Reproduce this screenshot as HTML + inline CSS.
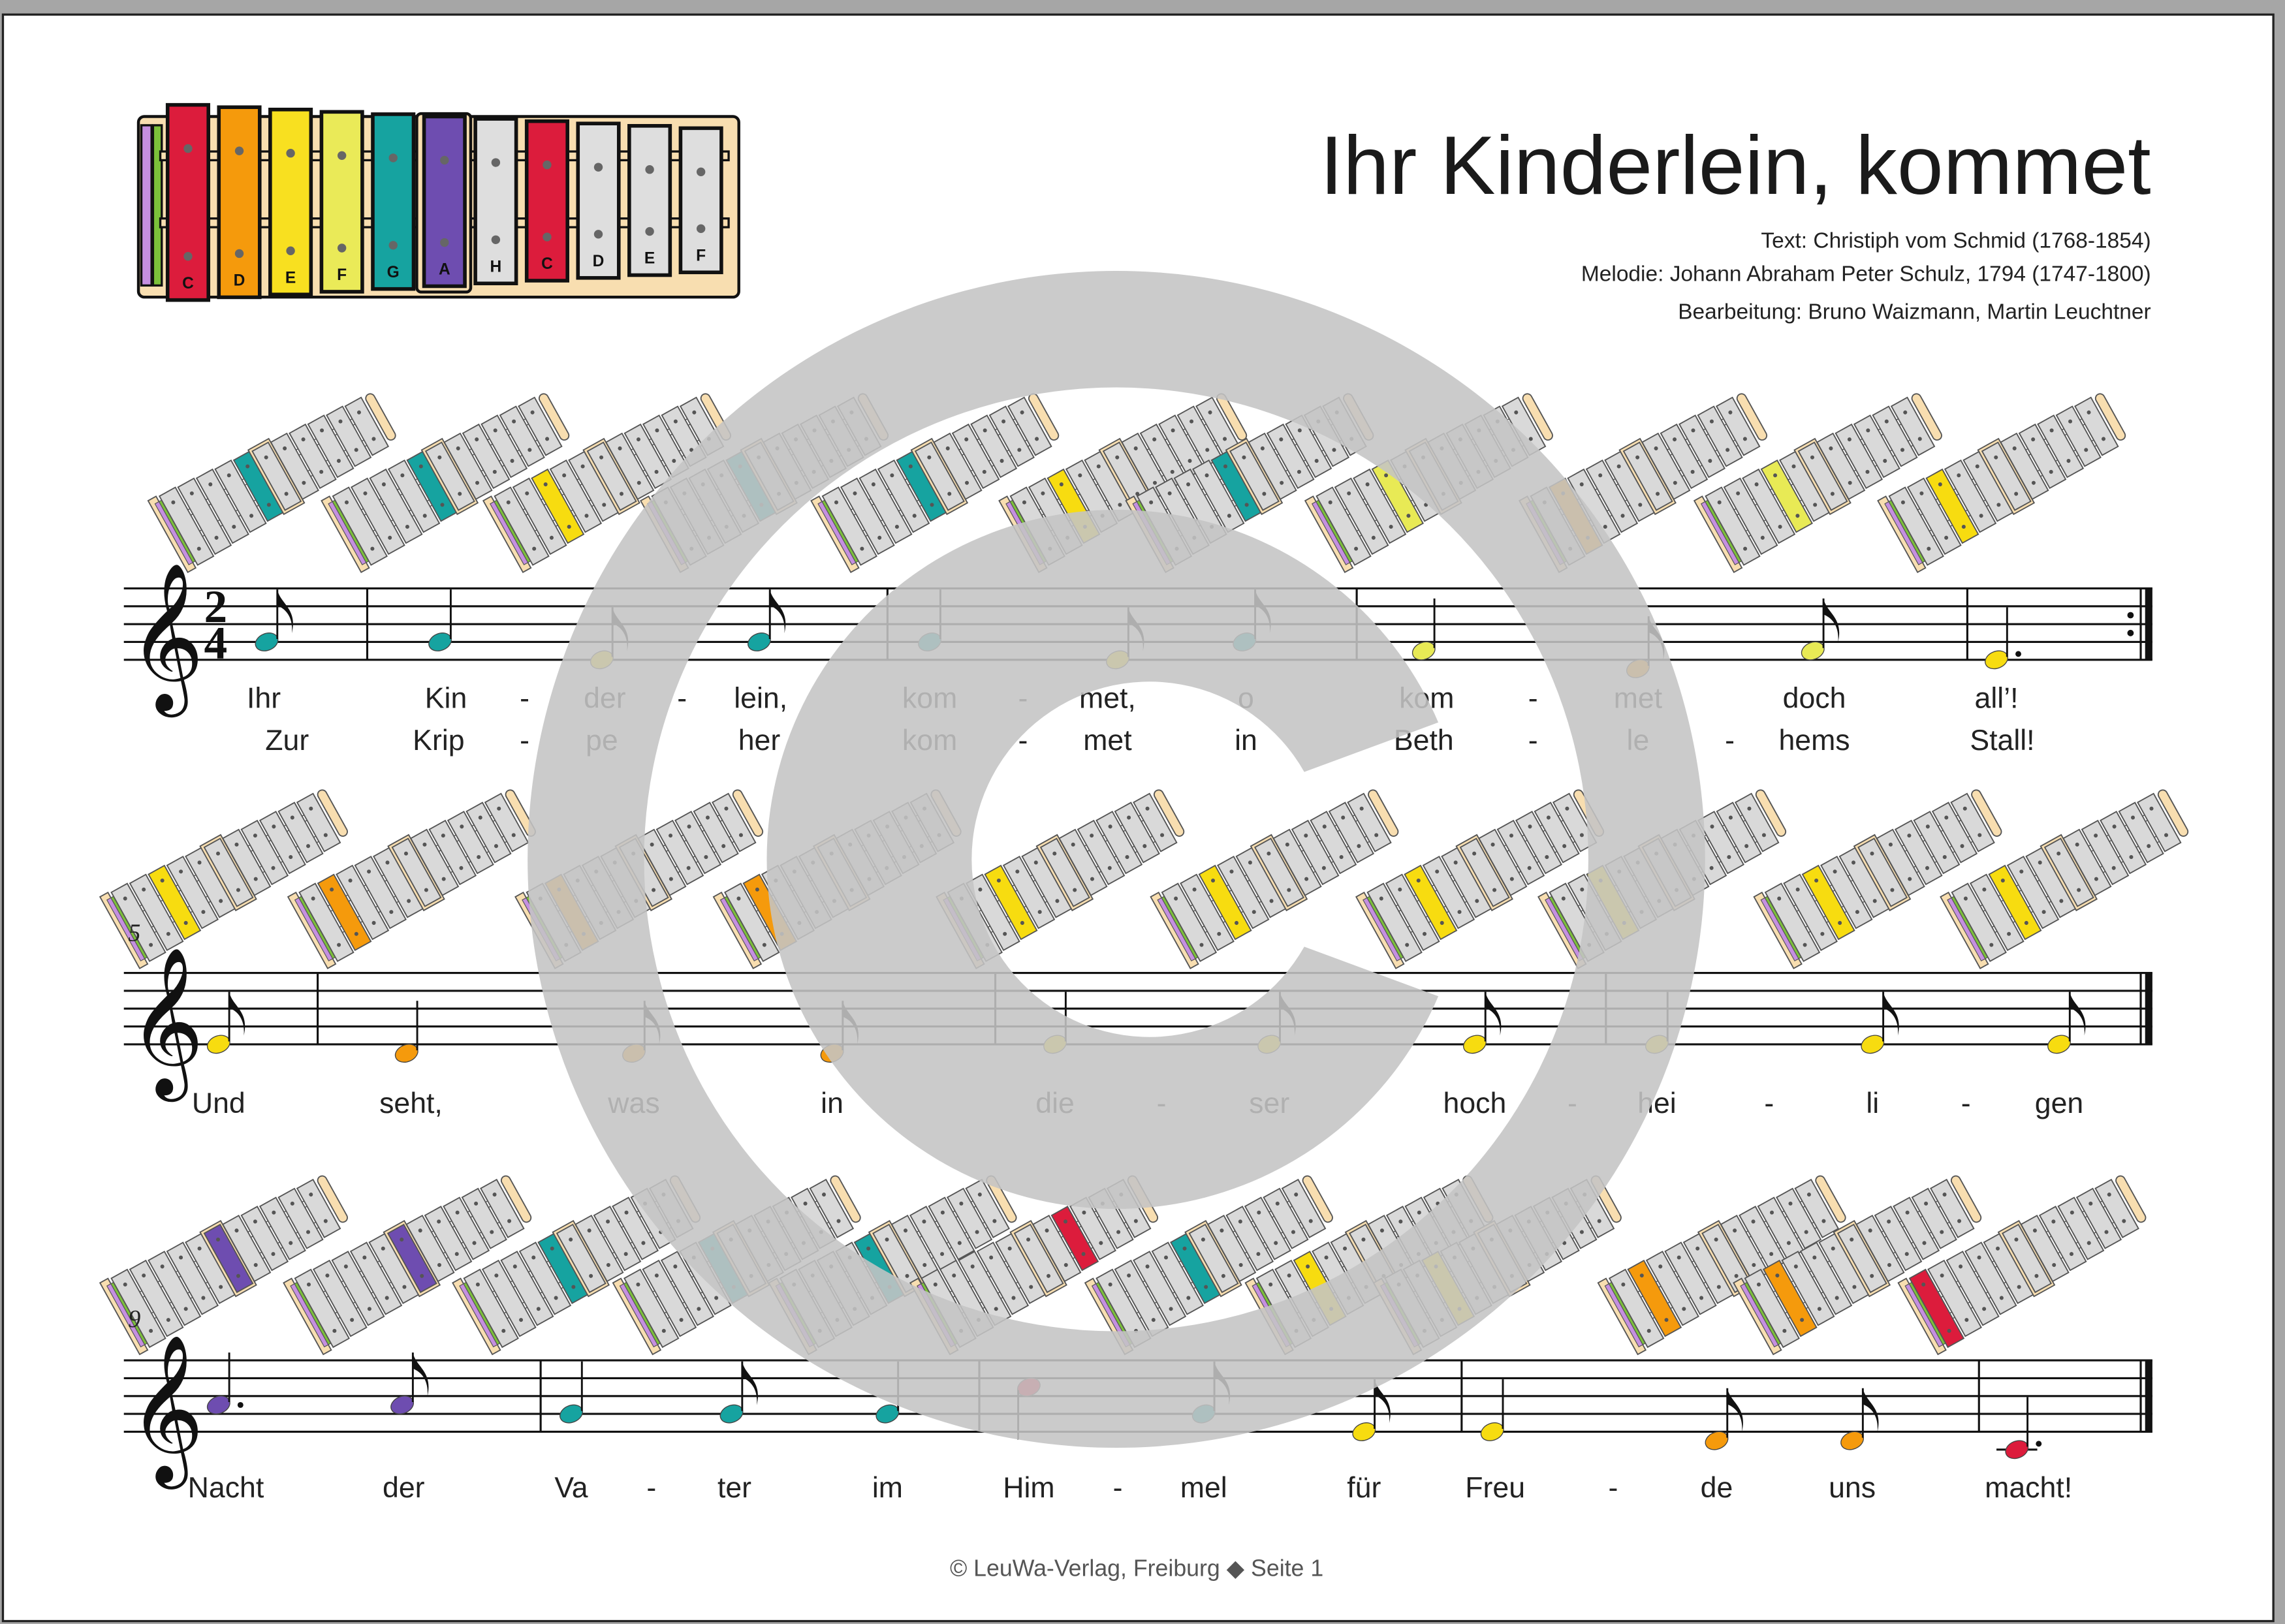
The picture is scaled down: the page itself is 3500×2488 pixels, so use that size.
<!DOCTYPE html>
<html><head><meta charset="utf-8">
<style>
html,body{margin:0;padding:0;background:#a6a6a6;}
svg{display:block;}
text{font-family:"Liberation Sans","DejaVu Sans",sans-serif;}
</style></head>
<body>
<svg id="s" width="3500" height="2488" viewBox="0 0 1568 1115" preserveAspectRatio="none" xmlns="http://www.w3.org/2000/svg">
<rect x="0" y="0" width="1568" height="1115" fill="#a6a6a6"/>
<rect x="2" y="10" width="1558" height="1103" fill="#fff" stroke="#222" stroke-width="1.5"/>
<g id="content"></g>
<text x="1476" y="133" font-size="57" text-anchor="end" fill="#1a1a1a">Ihr Kinderlein, kommet</text>
<text x="1476" y="170" font-size="15" text-anchor="end" fill="#222">Text: Christiph vom Schmid (1768-1854)</text>
<text x="1476" y="193" font-size="15" text-anchor="end" fill="#222">Melodie: Johann Abraham Peter Schulz, 1794 (1747-1800)</text>
<text x="1476" y="219" font-size="15" text-anchor="end" fill="#222">Bearbeitung: Bruno Waizmann, Martin Leuchtner</text>
<text x="780" y="1082" font-size="16" text-anchor="middle" fill="#555">© LeuWa-Verlag, Freiburg  ◆  Seite 1</text>
<text x="88" y="646" font-size="17" fill="#222" style="font-family:'Liberation Serif',serif;font-style:italic">5</text>
<text x="88" y="911" font-size="17" fill="#222" style="font-family:'Liberation Serif',serif;font-style:italic">9</text>
<g id="wm" fill="#c4c4c4" fill-opacity="0.88">
<path fill-rule="evenodd" d="M766,186 a404,404 0 1,0 0.1,0 Z M766,266 a324,324 0 1,1 -0.1,0 Z"/>
<path d="M 987 496 A 240 240 0 1 0 987 684 L 895 650 A 122 122 0 1 1 895 530 Z"/>
</g>
</svg>
<script>
var NS="http://www.w3.org/2000/svg";
var C=document.getElementById("content");
function el(t,a,p){var e=document.createElementNS(NS,t);for(var k in a)e.setAttribute(k,a[k]);(p||C).appendChild(e);return e;}
function tx(x,y,s,t,a,st){var e=el("text",Object.assign({x:x,y:y,"font-size":s},a||{}));if(st)e.setAttribute("style",st);e.textContent=t;return e;}
var col={C:"#dc1c3c",D:"#f59a0c",E:"#f7dc10",F:"#e8ea55",G:"#16a3a0",A:"#6e4db0",H:"#dddddd",c:"#dc1c3c"};
var idx={C:0,D:1,E:2,F:3,G:4,A:5,H:6,c:7};
var letters=["C","D","E","F","G","A","H","C","D","E","F"];
(function(){
 el("rect",{x:95,y:80,width:412,height:124,rx:4,fill:"#f8deb0",stroke:"#111","stroke-width":2});
 el("rect",{x:97,y:86,width:7,height:110,fill:"#c58fe0",stroke:"#111","stroke-width":1.5});
 el("rect",{x:105,y:86,width:6,height:110,fill:"#7cc13a",stroke:"#111","stroke-width":1.5});
 el("rect",{x:110,y:104,width:390,height:6,fill:"#f8deb0",stroke:"#111","stroke-width":1.5});
 el("rect",{x:110,y:150,width:390,height:6,fill:"#f8deb0",stroke:"#111","stroke-width":1.5});
 var fills=["#dc1c3c","#f59a0c","#f8e020","#eaea58","#16a3a0","#6e4db0","#dedede","#dc1c3c","#dedede","#dedede","#dedede"];
 for(var i=0;i<11;i++){
  var x=115+i*35.2, h=134-i*3.5, y=72+i*1.6;
  if(i==5) el("rect",{x:x-5,y:y-2,width:37,height:h+6,rx:3,fill:"#f8deb0",stroke:"#111","stroke-width":2});
  el("rect",{x:x,y:y,width:28,height:h,fill:fills[i],stroke:"#111","stroke-width":2.5});
  el("circle",{cx:x+14,cy:y+30,r:3,fill:"#666"});
  el("circle",{cx:x+14,cy:y+h-30,r:3,fill:"#666"});
  tx(x+14,y+h-8,11,letters[i],{"text-anchor":"middle",fill:"#111","font-weight":"bold"});
 }
})();
function colN(n){return ["#dc1c3c","#f59a0c","#f7dc10","#e8ea55","#16a3a0","#6e4db0","#ddd","#dc1c3c"][n];}
function icon(cx,cy,n){
 var g=el("g",{transform:"translate("+cx+","+cy+") rotate(-29) scale(1.04)"});
 el("rect",{x:-80,y:-27,width:6,height:54,fill:"#f8deb0",stroke:"#555","stroke-width":0.8},g);
 el("rect",{x:-77,y:-23,width:3,height:46,fill:"#c58fe0",stroke:"#555","stroke-width":0.5},g);
 el("rect",{x:-74,y:-23,width:3,height:46,fill:"#7cc13a",stroke:"#555","stroke-width":0.5},g);
 el("rect",{x:-72,y:-9,width:148,height:4,fill:"#fff",stroke:"#555","stroke-width":0.6},g);
 el("rect",{x:-72,y:7,width:148,height:4,fill:"#fff",stroke:"#555","stroke-width":0.6},g);
 for(var i=0;i<11;i++){
  var x=-72+i*13.6, h=52-i*1.5;
  if(i==5) el("rect",{x:x-2,y:-h/2-2,width:15.5,height:h+4,fill:"#f8deb0",stroke:"#555","stroke-width":0.8},g);
  el("rect",{x:x,y:-h/2,width:12,height:h,fill:i==n?colN(n):"#d9d9d9",stroke:"#555","stroke-width":0.8},g);
  el("circle",{cx:x+6,cy:-h/2+8,r:1.3,fill:"#555"},g);
  el("circle",{cx:x+6,cy:h/2-9,r:1.3,fill:"#555"},g);
 }
 el("rect",{x:78,y:-18,width:6,height:34,rx:3,fill:"#f8deb0",stroke:"#555","stroke-width":0.8},g);
}
var staves=[{top:404,bars:[252,609,931,1350],rep:true,ts:true},{top:668,bars:[218,683,1102]},{top:934,bars:[371,672,1003,1358]}];
var sp=12.25;
var pos={C:-2,D:-1,E:0,F:1,G:2,A:3,H:4,c:5};
var rows=[
 [[183,"G",8],[302,"G",4],[413,"E",8],[521,"G",8],[638,"G",4],[767,"E",8],[854,"G",8],[977,"F",4],[1124,"D",8],[1244,"F",8],[1370,"E",4,1]],
 [[150,"E",8],[279,"D",4],[435,"D",8],[571,"D",8],[724,"E",4],[871,"E",8],[1012,"E",8],[1137,"E",4],[1285,"E",8],[1413,"E",8]],
 [[150,"A",4,1],[276,"A",8],[392,"G",4],[502,"G",8],[609,"G",4],[706,"c",4],[826,"G",8],[936,"E",8],[1024,"E",4],[1178,"D",8],[1271,"D",8],[1384,"C",4,1]]
];
var iconY=[328,600,865];
staves.forEach(function(s,r){
 var bot=s.top+4*sp;
 for(var i=0;i<5;i++) el("line",{x1:85,x2:1477,y1:s.top+i*sp,y2:s.top+i*sp,stroke:"#111","stroke-width":1.4});
 s.bars.forEach(function(b){el("line",{x1:b,x2:b,y1:s.top,y2:bot,stroke:"#111","stroke-width":1.4});});
 el("line",{x1:1469,x2:1469,y1:s.top,y2:bot,stroke:"#111","stroke-width":1.4});
 el("rect",{x:1472,y:s.top,width:5,height:4*sp,fill:"#111"});
 if(s.rep){el("circle",{cx:1462,cy:s.top+1.5*sp,r:2.2,fill:"#111"});el("circle",{cx:1462,cy:s.top+2.5*sp,r:2.2,fill:"#111"});}
 tx(88,bot+14,88,"𝄞",{fill:"#111"},"font-family:'DejaVu Sans',sans-serif");
 if(s.ts){tx(148,s.top+23,32,"2",{"text-anchor":"middle","font-weight":"bold",fill:"#111"},"font-family:'Liberation Serif',serif");
          tx(148,s.top+48,32,"4",{"text-anchor":"middle","font-weight":"bold",fill:"#111"},"font-family:'Liberation Serif',serif");}
 rows[r].forEach(function(n){
  var x=n[0], y=bot-pos[n[1]]*sp/2;
  icon(x+5,iconY[r],idx[n[1]]);
  if(pos[n[1]]<=-2) el("line",{x1:x-14,x2:x+14,y1:y,y2:y,stroke:"#111","stroke-width":1.4});
  var down = n[1]=="c";
  el("ellipse",{cx:x,cy:y,rx:8,ry:5.8,fill:col[n[1]],stroke:"#444","stroke-width":0.6,transform:"rotate(-22 "+x+" "+y+")"});
  if(down){el("line",{x1:x-7.3,x2:x-7.3,y1:y+2,y2:y+36,stroke:"#111","stroke-width":1.3});}
  else{
   el("line",{x1:x+7.3,x2:x+7.3,y1:y-2,y2:y-36,stroke:"#111","stroke-width":1.3});
   if(n[2]==8) el("path",{d:"M"+(x+7.3)+","+(y-36)+" c2,10 14,13 10,30 c1,-12 -5,-17 -10,-19 z",fill:"#111"});
  }
  if(n[3]) el("circle",{cx:x+15,cy:y-(pos[n[1]]%2==0?4:0),r:2,fill:"#111"});
 });
});
function lyr(y,arr){arr.forEach(function(a){tx(a[0],y,20,a[1],{"text-anchor":"middle",fill:"#222"});});}
lyr(486,[[181,"Ihr"],[306,"Kin"],[360,"-"],[415,"der"],[468,"-"],[522,"lein,"],[638,"kom"],[702,"-"],[760,"met,"],[855,"o"],[979,"kom"],[1052,"-"],[1124,"met"],[1245,"doch"],[1370,"all’!"]]);
lyr(515,[[197,"Zur"],[301,"Krip"],[360,"-"],[413,"pe"],[521,"her"],[638,"kom"],[702,"-"],[760,"met"],[855,"in"],[977,"Beth"],[1052,"-"],[1124,"le"],[1187,"-"],[1245,"hems"],[1374,"Stall!"]]);
lyr(764,[[150,"Und"],[282,"seht,"],[435,"was"],[571,"in"],[724,"die"],[797,"-"],[871,"ser"],[1012,"hoch"],[1079,"-"],[1137,"hei"],[1214,"-"],[1285,"li"],[1349,"-"],[1413,"gen"]]);
lyr(1028,[[155,"Nacht"],[277,"der"],[392,"Va"],[447,"-"],[504,"ter"],[609,"im"],[706,"Him"],[767,"-"],[826,"mel"],[936,"für"],[1026,"Freu"],[1107,"-"],[1178,"de"],[1271,"uns"],[1392,"macht!"]]);
</script>
</body></html>
